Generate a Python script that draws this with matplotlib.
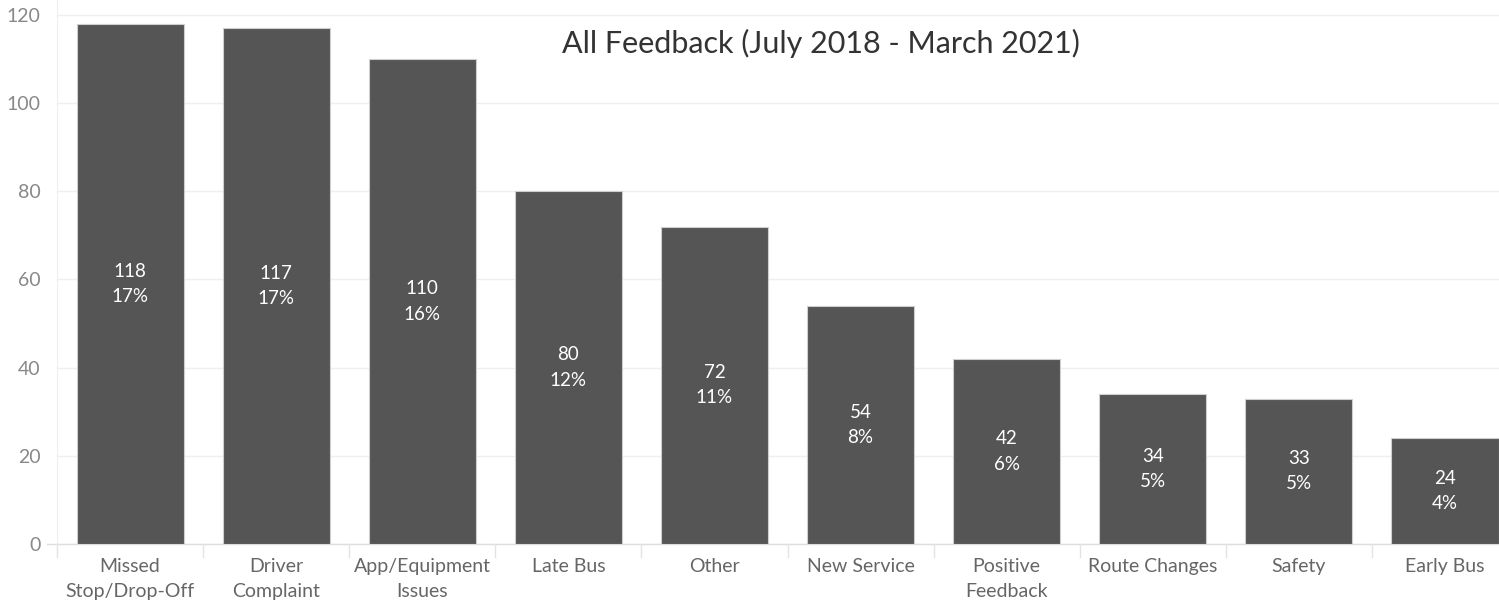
import matplotlib
matplotlib.use('Agg')
import matplotlib.pyplot as plt

categories = ['Missed\nStop/Drop-Off', 'Driver\nComplaint', 'App/Equipment\nIssues', 'Late Bus',
              'Other', 'New Service', 'Positive\nFeedback', 'Route Changes', 'Safety', 'Early Bus']
counts = [118, 117, 110, 80, 72, 54, 42, 34, 33, 24]
percents = ['17%', '17%', '16%', '12%', '11%', '8%', '6%', '5%', '5%', '4%']
yticks = [0, 20, 40, 60, 80, 100, 120]

plt.rcParams['font.family'] = ['Lato', 'DejaVu Sans']

fig = plt.figure(figsize=(14.99, 6.07), dpi=100)
ax = fig.add_axes([57 / 1499, 1 - 544 / 607, 1 - 57 / 1499, 544 / 607])

x = list(range(len(categories)))
ax.bar(x, counts, width=0.733, color='#555555', edgecolor='#cfcfcf', linewidth=0.8, zorder=3)

for i, (c, p) in enumerate(zip(counts, percents)):
    ax.text(i, c / 2, '%d\n%s' % (c, p), ha='center', va='center', color='white',
            fontsize=13.5, linespacing=1.6, zorder=4)

ax.set_xlim(-0.5, 9.5 - 19 / 146)
ax.set_ylim(0, 120 + 15 / 88.17 * 20)
ax.set_yticks(yticks)
ax.set_yticklabels([str(v) for v in yticks], color='#888888', fontsize=14)
ax.set_xticks(x)
ax.set_xticklabels(categories, color='#666666', fontsize=14, linespacing=1.55)
ax.tick_params(axis='y', length=0, pad=12)
ax.tick_params(axis='x', length=0, pad=10)

ax.grid(axis='y', color='#efefef', linewidth=1, zorder=0)
for s in ['top', 'right', 'bottom']:
    ax.spines[s].set_visible(False)
ax.spines['left'].set_color('#eeeeee')

# zero line and category separators
ax.plot([-0.57, 9.5], [0, 0], color='#dddddd', linewidth=1, clip_on=False, zorder=2)
for b in [i - 0.5 for i in range(len(categories) + 1)]:
    ax.plot([b, b], [0, -3], color='#e3e3e3', linewidth=1, clip_on=False)

ax.text(0.53, 0.92, 'All Feedback (July 2018 - March 2021)', transform=ax.transAxes,
        ha='center', va='center', fontsize=22, color='#333333')

fig.savefig('out.png', dpi=100)
